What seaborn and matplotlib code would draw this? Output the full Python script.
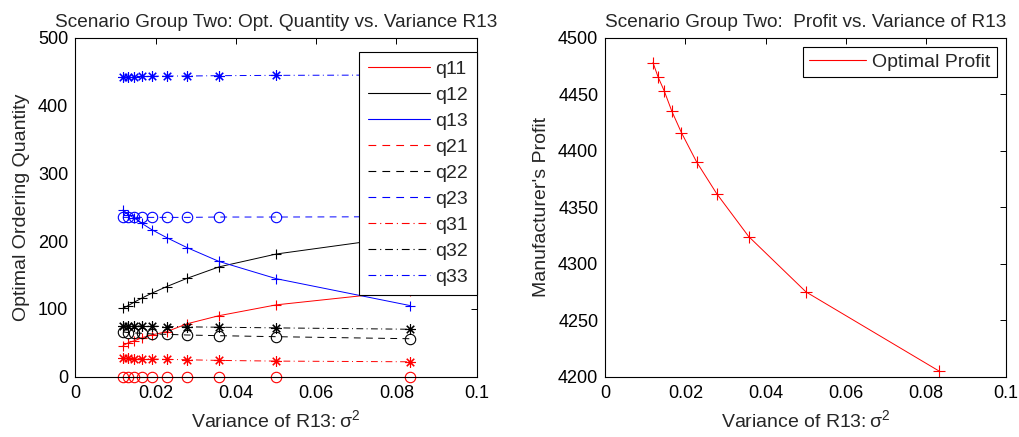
import matplotlib
matplotlib.use('Agg')
import matplotlib.pyplot as plt
import seaborn as sns
from matplotlib.lines import Line2D
from matplotlib.ticker import FuncFormatter, MultipleLocator

# variance of R13 (x positions of the plotted points)
variance = [0.0119, 0.0132, 0.0147, 0.0166, 0.0190, 0.0228, 0.0278, 0.0358, 0.0501, 0.0833]

# optimal ordering quantities
q11 = [46, 50, 53, 57.5, 61.5, 66.5, 78, 90, 106, 127]
q12 = [101, 105, 110, 116, 123, 133, 145, 162, 181, 208]
q13 = [246, 239, 234, 226, 217, 205, 190.5, 170, 144.5, 105]
q21 = [0, 0, 0, 0, 0, 0, 0, 0, 0, 0]
q22 = [66, 65, 64.5, 64, 63, 62.5, 61.5, 60.5, 59, 56]
q23 = [235, 235, 235, 235, 235, 235, 235, 235.5, 235.5, 236]
q31 = [27, 27, 26.5, 26.5, 26, 25.5, 25, 24, 23, 22]
q32 = [75, 75, 75, 74.5, 74.5, 74, 73.5, 73, 72, 70]
q33 = [442, 442, 442.5, 443, 443, 443.5, 443.5, 444, 444.5, 445]

# manufacturer's optimal profit
profit = [4478, 4465, 4453, 4435, 4416, 4390, 4362, 4324, 4275, 4205]

sns.set_style('white')
plt.rcParams['font.family'] = ['Liberation Sans', 'DejaVu Sans']
plt.rcParams['mathtext.fontset'] = 'custom'
plt.rcParams['mathtext.rm'] = 'Liberation Sans'
plt.rcParams['font.size'] = 12

solid = '-'
dashed = (0, (7, 5.5))
dashdot = (0, (7, 3.5, 1, 3.5))
asterisk = (8, 2, 0)  # matlab-style '*' (plus and cross together)

series = [
    ('q11', q11, 'red', solid, '+'),
    ('q12', q12, 'black', solid, '+'),
    ('q13', q13, 'blue', solid, '+'),
    ('q21', q21, 'red', dashed, 'o'),
    ('q22', q22, 'black', dashed, 'o'),
    ('q23', q23, 'blue', dashed, 'o'),
    ('q31', q31, 'red', dashdot, asterisk),
    ('q32', q32, 'black', dashdot, asterisk),
    ('q33', q33, 'blue', dashdot, asterisk),
]
msizes = {'+': 7.5, 'o': 7.5}

fig = plt.figure(figsize=(10.19, 4.37), dpi=100)
ax1 = fig.add_axes([0.0739, 0.138, 0.394, 0.7757])
ax2 = fig.add_axes([0.594, 0.138, 0.3932, 0.7757])

handles = []
for name, vals, color, ls, mk in series:
    msize = msizes.get(mk, 7.5) if isinstance(mk, str) else 7.5
    sns.lineplot(x=variance, y=vals, ax=ax1, color=color, linestyle=ls, linewidth=0.7,
                 marker=mk, markersize=msize, markerfacecolor='none',
                 markeredgecolor=color, markeredgewidth=0.8, sort=False, clip_on=False)
    handles.append(Line2D([], [], color=color, linestyle=ls, linewidth=0.8, label=name))

sns.lineplot(x=variance, y=profit, ax=ax2, color='red', linewidth=0.7, marker='+',
             markersize=8, markeredgecolor='red', markeredgewidth=0.8, sort=False)


def fmt(v, pos):
    return '%g' % round(v, 4)


for ax in (ax1, ax2):
    ax.set_xlim(0, 0.1)
    ax.xaxis.set_major_locator(MultipleLocator(0.02))
    ax.xaxis.set_major_formatter(FuncFormatter(fmt))
    ax.tick_params(direction='in', top=True, right=True, length=4, width=0.7,
                   labelsize=13, colors='black')
    ax.tick_params(axis='y', pad=5)
    ax.tick_params(axis='x', pad=6)
    for sp in ax.spines.values():
        sp.set_color('black')
        sp.set_linewidth(0.8)
    ax.set_xlabel(r'Variance of R13:$\mathregular{\,\sigma^2}$', fontsize=14, labelpad=5)

ax1.set_ylim(0, 500)
ax1.yaxis.set_major_locator(MultipleLocator(100))
ax1.set_ylabel('Optimal Ordering Quantity', fontsize=14, labelpad=6)
ax1.set_title('Scenario Group Two: Opt. Quantity vs. Variance R13', fontsize=13.7, pad=8)
leg1 = ax1.legend(handles=handles, loc='upper right', bbox_to_anchor=(1.0, 0.959),
                  borderaxespad=0, fancybox=False, framealpha=1, edgecolor='black',
                  handlelength=3.2, labelspacing=0.43, fontsize=14, borderpad=0.45,
                  handletextpad=0.28)
leg1.get_frame().set_linewidth(0.8)
leg1.set_zorder(10)

ax2.set_ylim(4200, 4500)
ax2.yaxis.set_major_locator(MultipleLocator(50))
ax2.set_ylabel("Manufacturer's Profit", fontsize=14, labelpad=6)
ax2.set_title('Scenario Group Two:  Profit vs. Variance of R13', fontsize=13.7, pad=8)
leg2 = ax2.legend(handles=[Line2D([], [], color='red', linewidth=0.8, label='Optimal Profit')],
                  loc='upper right', borderaxespad=0.46, fancybox=False, framealpha=1,
                  edgecolor='black', handlelength=2.95, fontsize=14, borderpad=0.33,
                  handletextpad=0.3)
leg2.get_frame().set_linewidth(0.8)

fig.savefig('out.png', dpi=100)
